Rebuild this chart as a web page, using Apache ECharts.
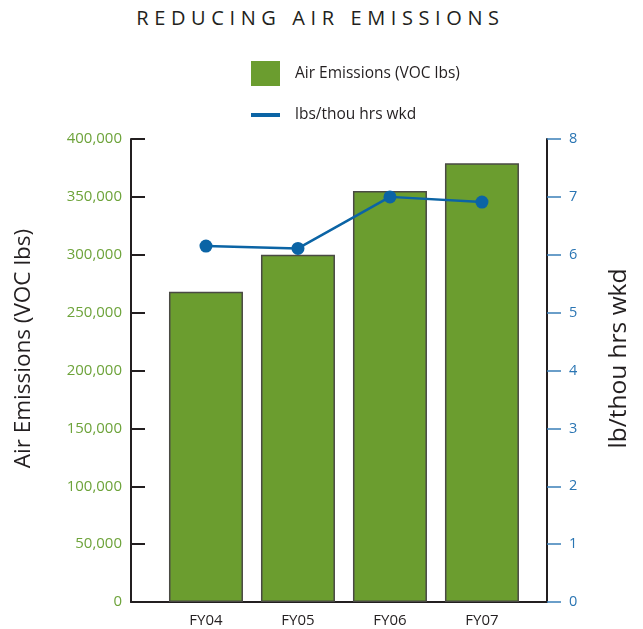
<!DOCTYPE html>
<html>
<head>
<meta charset="utf-8">
<script src="https://cdn.jsdelivr.net/npm/echarts@6/dist/echarts.min.js"></script>
<style>
    html, body { margin: 0; padding: 0; background: #fff; }
    #wrap { position: relative; width: 643px; height: 629px; }
    #chart-container { width: 643px; height: 629px; }
    #title {
        position: absolute; left: -1px; top: 4px; width: 643px; text-align: center;
        font-family: "Open Sans", sans-serif; font-size: 20px; letter-spacing: 5.6px;
        color: #231f20; white-space: nowrap;
    }
</style>
</head>
<body>
<div id="wrap">
    <div id="title">REDUCING AIR EMISSIONS</div>
    <div id="chart-container"></div>
</div>
<script>
const categories = ['FY04', 'FY05', 'FY06', 'FY07'];
const emissions = [268000, 300000, 355000, 379000];
const lbsPerThouHrs = [6.15, 6.11, 7.0, 6.91];
const leftTicks = [0, 50000, 100000, 150000, 200000, 250000, 300000, 350000, 400000];
const rightTicks = [0, 1, 2, 3, 4, 5, 6, 7, 8];

document.addEventListener('DOMContentLoaded', function () {

    const chartContainer = document.getElementById('chart-container');
    const font = '"Open Sans", sans-serif';

    const option = {
        animation: false,
        textStyle: { fontFamily: font },
        legend: {
            orient: 'vertical',
            left: 246,
            top: 56,
            itemWidth: 29,
            itemHeight: 25,
            itemGap: 21,
            textStyle: { fontSize: 15.5, color: '#231f20', padding: [0, 0, 0, 10] },
            data: [
                { name: 'Air Emissions (VOC lbs)', icon: 'rect', itemStyle: { borderWidth: 0 } },
                { name: 'lbs/thou hrs wkd', icon: 'path://M0,0h29v4h-29z' }
            ]
        },
        grid: { left: 131, right: 96, top: 139, bottom: 27 },
        xAxis: {
            type: 'value',
            min: -0.815,
            max: 3.707,
            splitLine: { show: false },
            axisLine: { show: true, onZero: false, lineStyle: { color: '#231f20', width: 2 } },
            axisTick: { show: false },
            axisLabel: {
                customValues: [0, 1, 2, 3],
                formatter: v => categories[Math.round(v)],
                color: '#231f20',
                fontSize: 15,
                margin: 11
            }
        },
        yAxis: [
            {
                type: 'value',
                min: 0,
                max: 400000,
                interval: 50000,
                name: 'Air Emissions (VOC lbs)',
                nameLocation: 'middle',
                nameGap: 96,
                nameTextStyle: { fontSize: 22.5, color: '#231f20', padding: [0, 0, 0, 44] },
                splitLine: { show: false },
                axisLine: { show: true, onZero: false, lineStyle: { color: '#231f20', width: 2 } },
                axisTick: { show: true, inside: true, length: 14, lineStyle: { color: '#231f20', width: 2 } },
                axisLabel: {
                    color: '#6da33a',
                    fontSize: 15,
                    margin: 9,
                    formatter: v => leftTicks.includes(v) ? v.toLocaleString('en-US') : ''
                }
            },
            {
                type: 'value',
                min: 0,
                max: 8,
                interval: 1,
                name: 'lb/thou hrs wkd',
                nameLocation: 'middle',
                nameGap: 60,
                nameRotate: 90,
                nameTextStyle: { fontSize: 24.5, color: '#231f20', padding: [0, 0, 0, 24] },
                splitLine: { show: false },
                axisLine: { show: true, onZero: false, lineStyle: { color: '#231f20', width: 2 } },
                axisTick: { show: true, length: 14, lineStyle: { color: '#3a7fb8', width: 1.5 } },
                axisLabel: {
                    color: '#2a75b3',
                    fontSize: 14.5,
                    margin: 22,
                    formatter: v => rightTicks.includes(v) ? String(v) : ''
                }
            }
        ],
        series: [
            {
                name: 'Air Emissions (VOC lbs)',
                type: 'bar',
                barWidth: 74,
                data: emissions.map((v, i) => [i, v]),
                itemStyle: { color: '#6b9d2f', borderColor: '#4a4a44', borderWidth: 1.5 }
            },
            {
                name: 'lbs/thou hrs wkd',
                type: 'line',
                yAxisIndex: 1,
                data: lbsPerThouHrs.map((v, i) => [i, v]),
                symbol: 'circle',
                symbolSize: 13,
                lineStyle: { color: '#0b64a5', width: 2.5 },
                itemStyle: { color: '#0b64a5' }
            }
        ]
    };

    const chart = echarts.init(chartContainer);
    chart.setOption(option);

})
</script>
</body>
</html>
